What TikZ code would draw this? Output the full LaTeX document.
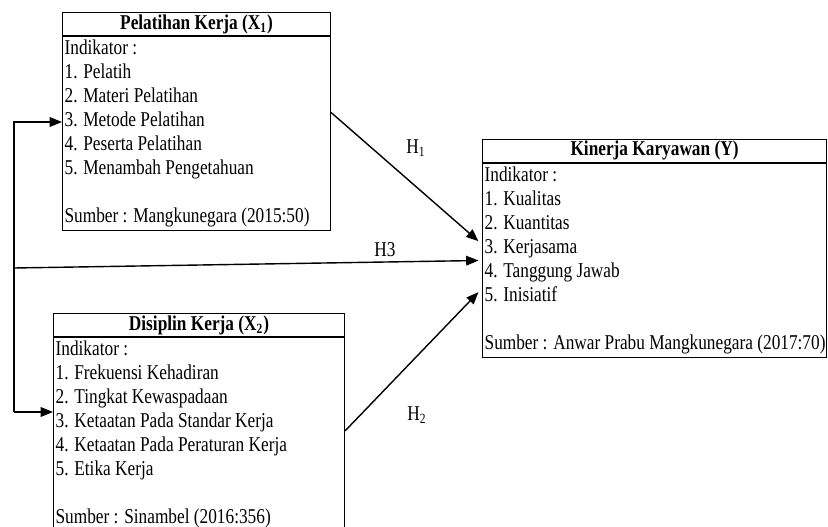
\documentclass[tikz,border=0pt]{standalone}
\usepackage{fontspec}
\setmainfont{Liberation Serif}[FakeStretch=0.82]
\usepackage{tikz}
\usetikzlibrary{arrows.meta,positioning}
\tikzset{
judul/.style={draw,line width=0.6pt,inner sep=0pt,minimum height=13pt,font=\fontsize{12}{13.6}\selectfont\bfseries},
isi/.style={draw,line width=0.6pt,align=left,inner xsep=1.2pt,inner ysep=2.2pt,font=\fontsize{12}{13.6}\selectfont,
  execute at begin node={\spaceskip=0pt\xspaceskip=0pt\relax}}
}
\begin{document}
\begin{tikzpicture}[x=0.02cm,y=-0.02cm,>={Triangle[length=7pt,width=5.5pt]},font=\fontsize{12}{13.6}\selectfont]
\clip(0,0)rectangle(828,527);
% variabel
\node[judul,minimum width=152.5pt,anchor=north west](x1)at(62,12){Pelatihan Kerja (X\textsubscript{1})};
\node[isi,text width=150.1pt,below=0pt of x1](x1b){Indikator :\\1. Pelatih\\2. Materi Pelatihan\\3. Metode Pelatihan\\4. Peserta Pelatihan\\5. Menambah Pengetahuan\\[13.6pt]Sumber : Mangkunegara (2015:50)};
\node[judul,minimum width=165.6pt,anchor=north west](x2)at(53,313){Disiplin Kerja (X\textsubscript{2})};
\node[isi,text width=163.2pt,below=0pt of x2](x2b){Indikator :\\1. Frekuensi Kehadiran\\2. Tingkat Kewaspadaan\\3. Ketaatan Pada Standar Kerja\\4. Ketaatan Pada Peraturan Kerja\\5. Etika Kerja\\[13.6pt]Sumber : Sinambel (2016:356)};
\node[judul,minimum width=195.8pt,anchor=north west](y)at(482,139){Kinerja Karyawan (Y)};
\node[isi,text width=193.4pt,below=0pt of y](yb){Indikator :\\1. Kualitas\\2. Kuantitas\\3. Kerjasama\\4. Tanggung Jawab\\5. Inisiatif\\[13.6pt]\mbox{Sumber : Anwar Prabu Mangkunegara (2017:70)}};
% hubungan
\coordinate(ta)at(14,122);
\coordinate(tb)at(14,412);
\coordinate(tc)at(14,268);
\draw[line width=0.8pt,->](tb)--(ta)--(ta-|x1b.west);
\draw[line width=0.8pt,->](tb)--(tb-|x2b.west);
\draw[line width=0.8pt,->]([yshift=12pt]x1b.east)--([shift={(-2pt,11pt)}]yb.west);
\draw[line width=0.8pt,->](tc)--([xshift=-2pt]yb.west);
\draw[line width=0.8pt,->]([yshift=2pt]x2b.east)--([shift={(-2pt,-18pt)}]yb.west);
\node(h1)at(416,148){H\textsubscript{1}};
\node(h3)at(385,250){H3};
\node(h2)at(417,415){H\textsubscript{2}};
\end{tikzpicture}
\end{document}
